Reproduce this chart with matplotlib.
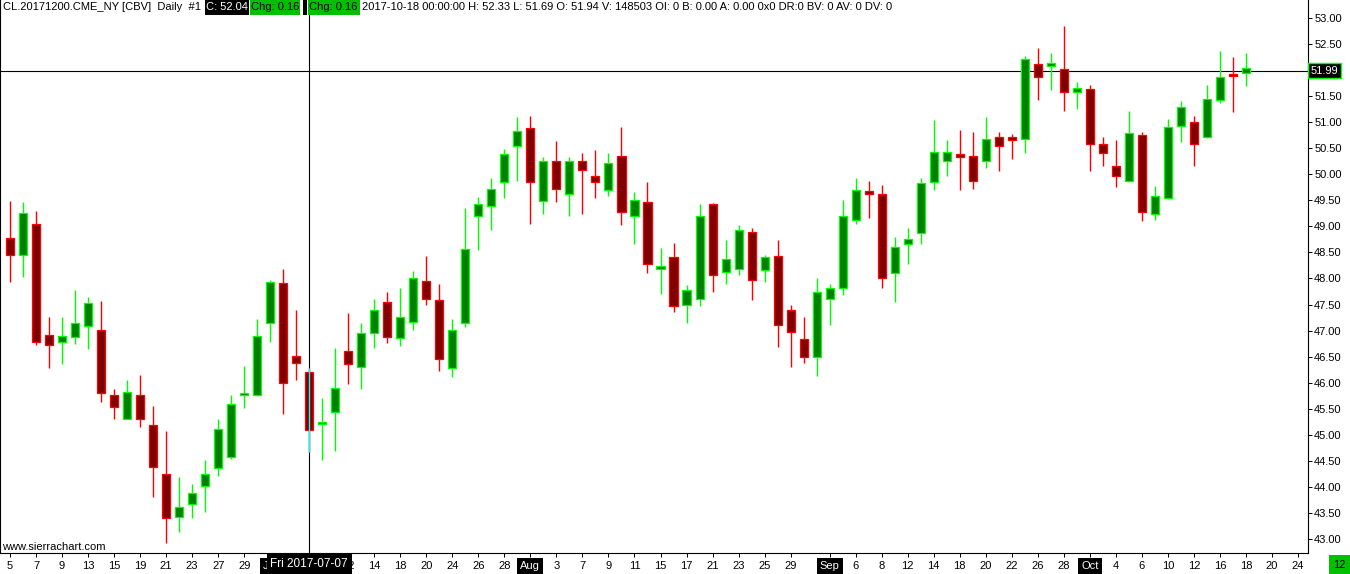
import matplotlib
matplotlib.use("Agg")
import matplotlib.pyplot as plt
from matplotlib.patches import Rectangle
import pandas as pd

W, H = 1350, 574

# trading days shown on the axis (holidays Jul 4 and Sep 4 have no bar)
dates = [d for d in pd.bdate_range("2017-06-05", "2017-10-24")
         if d.strftime("%Y-%m-%d") not in ("2017-07-04", "2017-09-04")]

# daily OHLC, CL Dec 2017, Jun 5 .. Oct 18
opens = [48.77, 48.46, 49.04, 46.91, 46.78, 46.87, 47.08, 47.01, 45.76, 45.31,
         45.76, 45.18, 44.24, 43.42, 43.67, 44.01, 44.36, 44.57, 45.76, 45.76,
         47.14, 47.91, 46.51, 46.20, 45.20, 45.43, 46.60, 46.30, 46.95, 47.54,
         46.85, 47.17, 47.95, 47.58, 46.29, 47.14, 49.19, 49.39, 49.85, 50.54,
         50.88, 49.49, 50.26, 49.63, 50.26, 49.97, 49.69, 50.36, 49.20, 49.46,
         48.18, 48.41, 47.49, 47.61, 49.42, 48.12, 48.18, 48.89, 48.16, 48.43,
         47.39, 46.83, 46.49, 47.60, 47.81, 49.12, 49.67, 49.62, 48.10, 48.66,
         48.87, 49.85, 50.25, 50.38, 50.36, 50.25, 50.71, 50.71, 50.67, 52.11,
         52.07, 52.03, 51.57, 51.63, 50.58, 50.15, 49.87, 50.75, 49.23, 49.54,
         50.92, 51.00, 50.71, 51.42, 51.93, 51.94]
highs = [49.49, 49.47, 49.30, 47.26, 47.26, 47.78, 47.65, 47.57, 45.88, 46.05,
         46.15, 45.55, 45.07, 44.19, 44.06, 44.52, 45.30, 45.76, 46.32, 47.22,
         47.97, 48.18, 47.40, 46.28, 45.71, 46.67, 47.34, 47.14, 47.61, 47.74,
         47.82, 48.14, 48.43, 47.89, 47.22, 49.36, 49.56, 49.93, 50.49, 51.10,
         51.12, 50.33, 50.64, 50.33, 50.41, 50.47, 50.41, 50.91, 49.66, 49.85,
         48.59, 48.68, 47.88, 49.43, 49.44, 48.74, 49.03, 48.97, 48.45, 48.74,
         47.49, 47.26, 48.01, 47.89, 49.51, 49.93, 49.87, 49.79, 48.80, 48.97,
         49.93, 51.04, 50.66, 50.85, 50.81, 51.10, 50.81, 50.77, 52.27, 52.42,
         52.33, 52.85, 51.77, 51.71, 50.72, 50.66, 51.22, 50.81, 49.78, 51.06,
         51.41, 51.12, 51.71, 52.37, 52.25, 52.33]
lows = [47.94, 48.02, 46.73, 46.29, 46.35, 46.75, 46.64, 45.62, 45.31, 45.30,
        45.14, 43.81, 42.93, 43.14, 43.41, 43.51, 44.20, 44.54, 45.52, 45.75,
        46.79, 45.39, 46.06, 44.66, 44.52, 44.69, 45.97, 45.87, 46.67, 46.77,
        46.71, 47.02, 47.49, 46.23, 46.10, 47.07, 48.55, 48.93, 49.54, 49.88,
        49.05, 49.24, 49.47, 49.19, 49.23, 49.55, 49.59, 49.03, 48.67, 48.11,
        47.71, 47.36, 47.15, 47.48, 47.75, 47.90, 48.07, 47.59, 47.93, 46.69,
        46.31, 46.38, 46.12, 47.10, 47.69, 49.05, 49.17, 47.81, 47.54, 48.27,
        48.67, 49.69, 49.96, 49.69, 49.72, 50.13, 50.07, 50.30, 50.40, 51.43,
        51.62, 51.22, 51.26, 50.07, 50.15, 49.76, 49.86, 49.11, 49.12, 49.53,
        50.61, 50.15, 50.70, 51.36, 51.20, 51.69]
closes = [48.46, 49.25, 46.79, 46.72, 46.89, 47.14, 47.52, 45.80, 45.53, 45.83,
          45.30, 44.38, 43.40, 43.61, 43.88, 44.24, 45.11, 45.60, 45.80, 46.89,
          47.93, 45.99, 46.37, 45.09, 45.25, 45.89, 46.35, 46.95, 47.39, 46.87,
          47.27, 48.00, 47.60, 46.45, 47.02, 48.56, 49.42, 49.71, 50.38, 50.84,
          49.85, 50.26, 49.71, 50.25, 50.08, 49.85, 50.22, 49.28, 49.50, 48.28,
          48.23, 47.47, 47.77, 49.19, 48.06, 48.37, 48.94, 47.97, 48.41, 47.10,
          46.97, 46.49, 47.75, 47.81, 49.19, 49.69, 49.62, 48.00, 48.60, 48.75,
          49.83, 50.42, 50.42, 50.34, 49.88, 50.67, 50.54, 50.65, 52.21, 51.86,
          52.13, 51.57, 51.65, 50.58, 50.40, 49.96, 50.79, 49.27, 49.58, 50.90,
          51.29, 50.59, 51.44, 51.86, 51.88, 52.04]

tick_dates = ["2017-06-05", "2017-06-07", "2017-06-09", "2017-06-13", "2017-06-15",
              "2017-06-19", "2017-06-21", "2017-06-23", "2017-06-27", "2017-06-29",
              "2017-07-03", "2017-07-06", "2017-07-10", "2017-07-12", "2017-07-14",
              "2017-07-18", "2017-07-20", "2017-07-24", "2017-07-26", "2017-07-28",
              "2017-08-01", "2017-08-03", "2017-08-07", "2017-08-09", "2017-08-11",
              "2017-08-15", "2017-08-17", "2017-08-21", "2017-08-23", "2017-08-25",
              "2017-08-29", "2017-09-01", "2017-09-06", "2017-09-08", "2017-09-12",
              "2017-09-14", "2017-09-18", "2017-09-20", "2017-09-22", "2017-09-26",
              "2017-09-28", "2017-10-02", "2017-10-04", "2017-10-06", "2017-10-10",
              "2017-10-12", "2017-10-16", "2017-10-18", "2017-10-20", "2017-10-24"]
month_starts = ["2017-07-03", "2017-08-01", "2017-09-01", "2017-10-02"]
# labels fully hidden behind the cursor date box
hidden_ticks = ["2017-07-06", "2017-07-10"]

price_ticks = [43.0 + 0.5 * k for k in range(21)]
cursor_date = "2017-07-07"
cursor_price = 51.99

header_main = "CL.20171200.CME_NY [CBV]  Daily  #1"
header_rest = ("2017-10-18 00:00:00 H: 52.33 L: 51.69 O: 51.94 V: 148503 OI: 0 "
               "B: 0.00 A: 0.00 0x0 DR:0 BV: 0 AV: 0 DV: 0")

UP_FILL, UP_EDGE = "#008000", "#00FF00"
DN_FILL, DN_EDGE = "#800000", "#FF0000"
BOX_GREEN = "#00C000"
FONT = "Liberation Sans"
FS = 8

plt.rcParams["font.family"] = [FONT, "DejaVu Sans"]

fig = plt.figure(figsize=(W / 100, H / 100), dpi=100)
fig.patch.set_facecolor("white")
ax = fig.add_axes([0, 21 / H, 1308 / W, 553 / H])

day_str = [d.strftime("%Y-%m-%d") for d in dates]
xs = list(range(len(opens)))

for i in xs:
    up = closes[i] >= opens[i]
    edge = UP_EDGE if up else DN_EDGE
    fill = UP_FILL if up else DN_FILL
    ax.vlines(i, lows[i], highs[i], color=edge, linewidth=1.0, zorder=2)
    lo = min(opens[i], closes[i])
    hgt = max(abs(closes[i] - opens[i]), 0.03)
    ax.bar(i, hgt, bottom=lo, width=0.62, color=fill, edgecolor=edge,
           linewidth=0.9, zorder=3)

# crosshair
cx = day_str.index(cursor_date)
ax.axvline(cx, color="black", linewidth=0.8, zorder=1)
ax.axhline(cursor_price, color="black", linewidth=0.8, zorder=1)
ax.vlines(cx, lows[cx], highs[cx], color="#00FFFF", linewidth=1.0, zorder=4)

ax.set_xlim(-0.77, 99.77)
ax.set_ylim(42.731, 53.345)

ax.spines["top"].set_visible(False)
for side in ("right", "bottom", "left"):
    ax.spines[side].set_linewidth(0.8)
    ax.spines[side].set_color("black")

ax.yaxis.tick_right()
ax.set_yticks(price_ticks)
ax.set_yticklabels([f"{p:.2f}" for p in price_ticks])
ax.tick_params(axis="y", direction="out", length=3, width=0.7, pad=1.5,
               labelsize=FS, colors="black")

tick_pos = [day_str.index(t) for t in tick_dates]
tick_lbl = []
for t in tick_dates:
    d = pd.Timestamp(t)
    if t in hidden_ticks:
        tick_lbl.append("")
    elif t in month_starts:
        tick_lbl.append(d.strftime("%b"))
    else:
        tick_lbl.append(str(d.day))
ax.set_xticks(tick_pos)
ax.set_xticklabels(tick_lbl)
ax.tick_params(axis="x", direction="out", length=3, width=0.7, pad=2.5,
               labelsize=FS, colors="black")
for t, lab in zip(tick_dates, ax.get_xticklabels()):
    if t in month_starts:
        lab.set_color("white")
        lab.set_bbox(dict(facecolor="black", edgecolor="none", pad=2.2))

# cursor labels
ax.annotate(f"Fri {cursor_date}", xy=(cx, 0), xycoords=("data", "axes fraction"),
            xytext=(0, -8), textcoords="offset points", ha="center", va="center",
            fontsize=FS + 0.5, color="white", annotation_clip=False, zorder=6,
            bbox=dict(facecolor="black", edgecolor="none", pad=2.6))
ax.annotate(f"{cursor_price:.2f}", xy=(1, cursor_price),
            xycoords=("axes fraction", "data"), xytext=(2, 0),
            textcoords="offset points", ha="left", va="center", fontsize=FS,
            color="white", annotation_clip=False, zorder=6,
            bbox=dict(facecolor="black", edgecolor="#00FF00", linewidth=1, pad=2.0))


def fx(x):
    return x / W


def fy(y):
    return 1 - y / H


# header line
fig.text(fx(3), fy(7.5), header_main, ha="left", va="center", fontsize=FS)
boxes = [(205, 249, "black", "C: 52.04", "white"),
         (250, 300, BOX_GREEN, "Chg: 0.16", "black"),
         (302.5, 306.5, "black", "", "white"),
         (308, 360, BOX_GREEN, "Chg: 0.16", "black")]
for x0, x1, fc, txt, tc in boxes:
    fig.patches.append(Rectangle((fx(x0), fy(15)), fx(x1 - x0), 15 / H,
                                 transform=fig.transFigure, facecolor=fc,
                                 edgecolor="none", zorder=5))
    if txt:
        fig.text(fx(x0 + 1), fy(7.5), txt, ha="left", va="center",
                 fontsize=FS, color=tc, zorder=6)
fig.text(fx(362), fy(7.5), header_rest, ha="left", va="center", fontsize=FS)

fig.text(fx(2), fy(547), "www.sierrachart.com", ha="left", va="center",
         fontsize=FS)
fig.patches.append(Rectangle((fx(1329), 0), fx(21), 19 / H,
                             transform=fig.transFigure, facecolor=BOX_GREEN,
                             edgecolor="none"))
fig.text(fx(1339.5), fy(564.5), "12", ha="center", va="center", fontsize=FS)

fig.savefig("out.png", dpi=100)
